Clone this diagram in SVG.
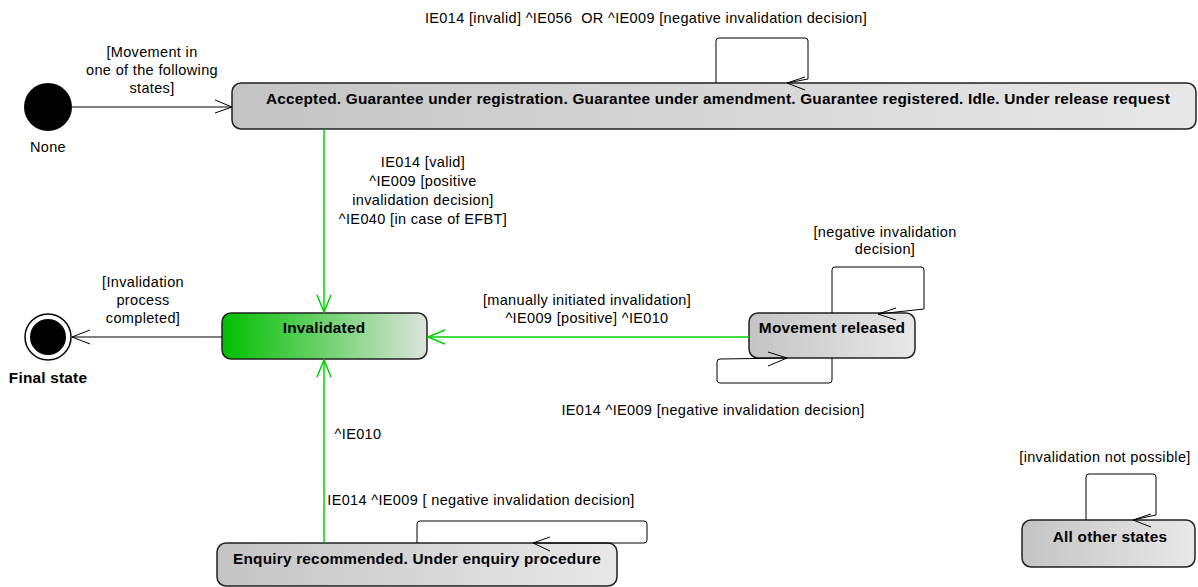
<svg xmlns="http://www.w3.org/2000/svg" width="1198" height="587" viewBox="0 0 1198 587">
<style>
.lbl{font-family:"Liberation Sans",Arial,sans-serif;font-size:14.5px;letter-spacing:0.35px;fill:#000;text-anchor:middle}
.st{font-family:"Liberation Sans",Arial,sans-serif;font-size:15.4px;letter-spacing:0.2px;font-weight:bold;fill:#000;text-anchor:middle}
.box{fill:url(#gray);stroke:#202020;stroke-width:1.5}
.loop{fill:none;stroke:#000;stroke-width:1}
.ah{fill:none;stroke:#000;stroke-width:1}
.g{stroke:#00d000;stroke-width:1.5;fill:none}
.b{stroke:#000;stroke-width:1;fill:none}
</style>
<defs>
<linearGradient id="gray" x1="0" y1="0" x2="1" y2="0">
<stop offset="0" stop-color="#c4c4c4"/>
<stop offset="1" stop-color="#e8e8e8"/>
</linearGradient>
<linearGradient id="green" x1="0" y1="0" x2="1" y2="0">
<stop offset="0" stop-color="#00c000"/>
<stop offset="1" stop-color="#dce4dc"/>
</linearGradient>
</defs>

<g id="initial">
<circle cx="48" cy="107" r="24" fill="#000"/>
<text class="lbl" x="48" y="152">None</text>
</g>

<g id="accepted">
<rect class="box" x="232" y="83" width="964" height="46" rx="9"/>
<text class="st" x="718" y="104">Accepted. Guarantee under registration. Guarantee under amendment. Guarantee registered. Idle. Under release request</text>
</g>

<g id="invalidated">
<rect x="222" y="313" width="205" height="46" rx="9" fill="url(#green)" stroke="#202020" stroke-width="1.5"/>
<text class="st" x="324" y="333">Invalidated</text>
</g>

<g id="final">
<circle cx="48" cy="337" r="23" fill="#fff" stroke="#000" stroke-width="1.5"/>
<circle cx="48" cy="337" r="18" fill="#000"/>
<text class="st" x="48" y="383">Final state</text>
</g>

<g id="movement-released">
<rect class="box" x="749" y="313" width="166" height="45" rx="9"/>
<text class="st" x="832" y="333">Movement released</text>
</g>

<g id="enquiry">
<rect class="box" x="217" y="543" width="400" height="43" rx="9"/>
<text class="st" x="417" y="564">Enquiry recommended. Under enquiry procedure</text>
</g>

<g id="all-other">
<rect class="box" x="1022" y="520" width="173" height="47" rx="9"/>
<text class="st" x="1110" y="542">All other states</text>
</g>

<g id="connectors">
<!-- initial to accepted -->
<path class="b" d="M72,107 H232"/>
<path class="ah" d="M215,100 L232,107 L215,113"/>
<text class="lbl" x="152" y="57">[Movement in</text>
<text class="lbl" x="152" y="75">one of the following</text>
<text class="lbl" x="152" y="93">states]</text>
<!-- accepted self loop -->
<path class="loop" d="M716,83 V41 Q716,38 719,38 H805 Q808,38 808,41 V79 L787,83"/>
<path class="ah" d="M805,77 L787,83 L805,90"/>
<text class="lbl" x="646" y="23" xml:space="preserve">IE014 [invalid] ^IE056  OR ^IE009 [negative invalidation decision]</text>
<!-- accepted to invalidated -->
<path class="g" d="M324,129 V312"/>
<path class="g" d="M317,295 L324,312 L331,295"/>
<text class="lbl" x="423" y="167">IE014 [valid]</text>
<text class="lbl" x="423" y="186">^IE009 [positive</text>
<text class="lbl" x="423" y="205">invalidation decision]</text>
<text class="lbl" x="423" y="224">^IE040 [in case of EFBT]</text>
<!-- invalidated to final -->
<path class="b" d="M222,337 H72"/>
<path class="ah" d="M90,330 L72,337 L90,344"/>
<text class="lbl" x="143" y="287">[Invalidation</text>
<text class="lbl" x="143" y="305">process</text>
<text class="lbl" x="143" y="323">completed]</text>
<!-- movement released to invalidated -->
<path class="g" d="M749,337 H428"/>
<path class="g" d="M445,330 L428,337 L445,344"/>
<text class="lbl" x="587" y="305">[manually initiated invalidation]</text>
<text class="lbl" x="587" y="323">^IE009 [positive] ^IE010</text>
<!-- movement released top loop -->
<path class="loop" d="M832,313 V270 Q832,267 835,267 H921 Q924,267 924,270 V309 L878,314"/>
<path class="ah" d="M896,308 L878,314 L896,320"/>
<text class="lbl" x="885" y="237">[negative invalidation</text>
<text class="lbl" x="885" y="254">decision]</text>
<!-- movement released bottom loop -->
<path class="loop" d="M832,358 V380 Q832,383 829,383 H720 Q717,383 717,380 V362 Q717,359 720,359 L787,358"/>
<path class="ah" d="M768,352 L787,358 L768,366"/>
<text class="lbl" x="713" y="415">IE014 ^IE009 [negative invalidation decision]</text>
<!-- enquiry to invalidated -->
<path class="g" d="M324,543 V360"/>
<path class="g" d="M317,377 L324,360 L331,377"/>
<text class="lbl" x="358" y="439">^IE010</text>
<!-- enquiry loop -->
<path class="loop" d="M417,543 V524 Q417,521 420,521 H644 Q647,521 647,524 V540 Q647,543 644,543 L533,543"/>
<path class="ah" d="M550,537 L533,543 L550,551"/>
<text class="lbl" x="481" y="505">IE014 ^IE009 [ negative invalidation decision]</text>
<!-- all other states loop -->
<path class="loop" d="M1086,520 V477 Q1086,474 1089,474 H1153 Q1156,474 1156,477 V515 L1133,520"/>
<path class="ah" d="M1151,514 L1133,520 L1151,527"/>
<text class="lbl" x="1105" y="462">[invalidation not possible]</text>
</g>
</svg>
